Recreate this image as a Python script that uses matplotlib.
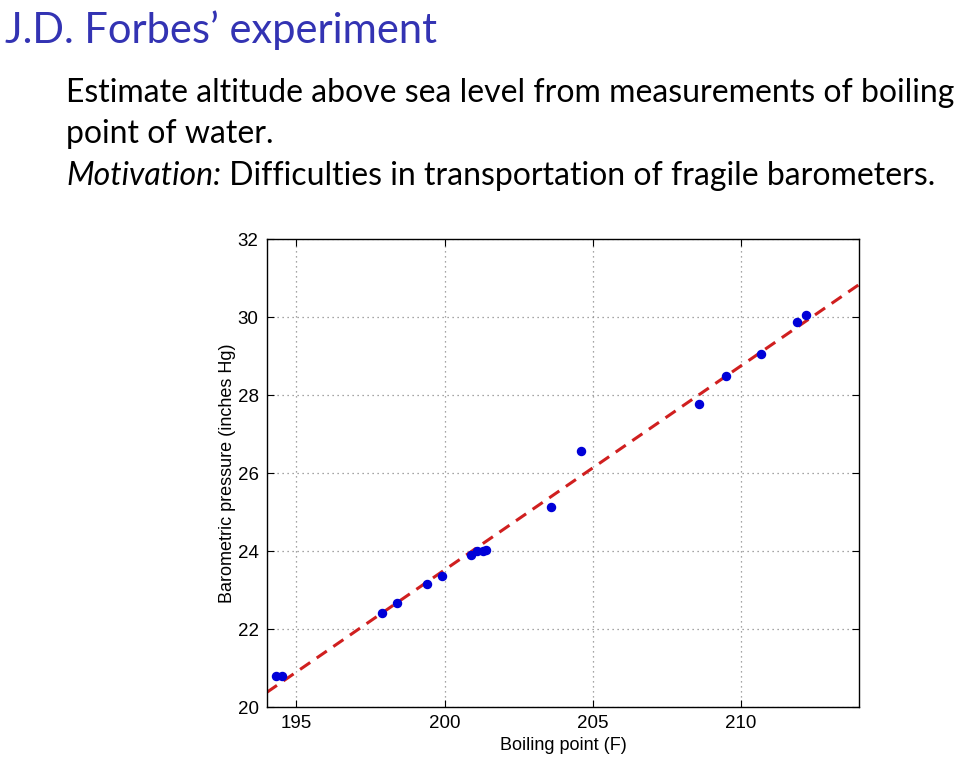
import numpy as np
import matplotlib.pyplot as plt

# Forbes' data: boiling point (F) and barometric pressure (inches Hg)
boiling_point = [194.5, 194.3, 197.9, 198.4, 199.4, 199.9, 200.9, 201.1, 201.4,
                 201.3, 203.6, 204.6, 209.5, 208.6, 210.7, 211.9, 212.2]
pressure = [20.79, 20.79, 22.40, 22.67, 23.15, 23.35, 23.89, 23.99, 24.02,
            24.01, 25.14, 26.57, 28.49, 27.76, 29.04, 29.88, 30.06]

x_ticks = [195, 200, 205, 210]
y_ticks = [20, 22, 24, 26, 28, 30, 32]

title_color = '#3333B3'
body_size = 23

fig = plt.figure(figsize=(9.6, 7.59), dpi=100)

# slide title and text
fig.text(0.005, 0.943, "J.D. Forbes\u2019 experiment", fontsize=30,
         color=title_color, family='Lato', va='baseline')
fig.text(0.069, 0.866, "Estimate altitude above sea level from measurements of boiling",
         fontsize=body_size, family='Lato', va='baseline')
fig.text(0.069, 0.811, "point of water.", fontsize=body_size, family='Lato',
         va='baseline')
t = fig.text(0.069, 0.756, "Motivation:", fontsize=body_size, family='Lato',
             style='italic', va='baseline')
renderer = fig.canvas.get_renderer()
bb = t.get_window_extent(renderer).transformed(fig.transFigure.inverted())
fig.text(bb.x1, 0.756, " Difficulties in transportation of fragile barometers.",
         fontsize=body_size, family='Lato', va='baseline')

ax = fig.add_axes([0.278, 0.0685, 0.617, 0.6166])

# least squares line
coef = np.polyfit(boiling_point, pressure, 1)
xs = np.array([194, 214])
ax.plot(xs, np.polyval(coef, xs), linestyle='--', color='#D01F1F', linewidth=2.2,
        dashes=(4, 2.6), zorder=2)
ax.plot(boiling_point, pressure, 'o', color='#0000D8', markersize=5.8, zorder=3)

ax.set_xlim(194, 214)
ax.set_ylim(20, 32)
ax.set_xticks(x_ticks)
ax.set_yticks(y_ticks)
ax.grid(True, linestyle=(0, (1, 3)), color='#888888', linewidth=0.9)
ax.tick_params(direction='in', top=True, right=True, length=5, labelsize=13.5,
               pad=6)
for lbl in ax.get_xticklabels() + ax.get_yticklabels():
    lbl.set_family('Liberation Sans')
for s in ax.spines.values():
    s.set_linewidth(1.0)
ax.set_xlabel('Boiling point (F)', fontsize=13, family='Liberation Sans', labelpad=3)
ax.set_ylabel('Barometric pressure (inches Hg)', fontsize=13,
              family='Liberation Sans', labelpad=1)

plt.savefig('out.png', dpi=100)
